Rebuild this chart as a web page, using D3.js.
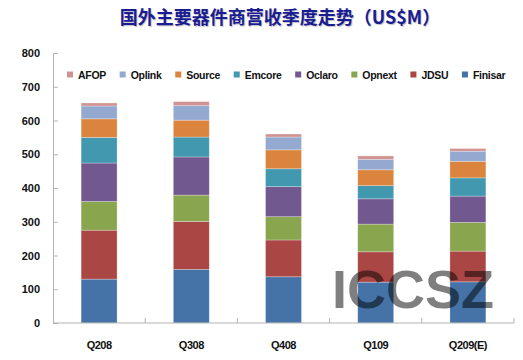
<!DOCTYPE html>
<html><head><meta charset="utf-8">
<script src="https://cdn.jsdelivr.net/npm/d3@7"></script>
<style>
body{margin:0;background:#fff}
text{font-family:"Liberation Sans",Arial,sans-serif}
</style>
</head><body><svg id="c" width="523" height="360"></svg>
<script>
const categories = ["Q208","Q308","Q408","Q109","Q209(E)"];
const seriesNames = ["Finisar","JDSU","Opnext","Oclaro","Emcore","Source","Oplink","AFOP"];
const finisar = [130,159,137,121,122];
const jdsu    = [145,142,109, 90, 91];
const opnext  = [ 85, 78, 69, 82, 85];
const oclaro  = [114,113, 89, 75, 78];
const emcore  = [ 76, 59, 53, 39, 54];
const source  = [ 55, 50, 56, 47, 49];
const oplink  = [ 38, 43, 38, 31, 30];
const afop    = [  9, 12,  9, 10,  8];
const yTicks = [0,100,200,300,400,500,600,700,800];
const seriesColors = ["#4572A7","#AA4643","#89A54E","#71588F","#4198AF","#DB843D","#93A9CF","#D19392"];
const titleText = "国外主要器件商营收季度走势（US$M）";
const watermark = "ICCSZ";

const seriesValues = [finisar,jdsu,opnext,oclaro,emcore,source,oplink,afop];
const rows = categories.map((c,i)=>{
  const r = {cat:c};
  seriesNames.forEach((s,k)=> r[s]=seriesValues[k][i]);
  return r;
});

const svg = d3.select("#c");
const m = {left:53, right:9, top:53, bottom:37};
const W = 523, H = 360;
const x = d3.scaleBand().domain(categories).range([m.left, W-m.right]).paddingInner(0.61).paddingOuter(0.305);
const y = d3.scaleLinear().domain([0,800]).range([H-m.bottom, m.top]);
const color = d3.scaleOrdinal().domain(seriesNames).range(seriesColors);

const stack = d3.stack().keys(seriesNames)(rows);

// title
svg.append("text").attr("x",280).attr("y",24).attr("text-anchor","middle")
  .attr("font-weight","bold").attr("font-size",18).attr("fill","#1a1c94")
  .attr("style","font-family:'Noto Sans CJK SC',sans-serif;text-shadow:1px 1px 1px rgba(0,0,0,0.25)")
  .text(titleText);

// bars
svg.append("g").selectAll("g").data(stack).join("g")
  .attr("fill", d=>color(d.key))
  .selectAll("rect").data(d=>d).join("rect")
  .attr("x", d=>x(d.data.cat))
  .attr("width", x.bandwidth())
  .attr("y", d=>y(d[1]))
  .attr("height", d=>y(d[0])-y(d[1]))
  .attr("stroke","rgba(255,255,255,0.35)").attr("stroke-width",0.8);

// y axis
const ya = svg.append("g").attr("transform",`translate(${m.left},0)`)
  .call(d3.axisLeft(y).tickValues(yTicks).tickSize(-5).tickPadding(13));
ya.select(".domain").attr("stroke","#b3b3b3");
ya.selectAll(".tick line").attr("stroke","#b3b3b3");
ya.selectAll("text").attr("font-size",11).attr("font-weight","bold").attr("fill","#111");

// x axis
const xa = svg.append("g").attr("transform",`translate(0,${y(0)})`)
  .call(d3.axisBottom(x).tickSize(0).tickPadding(18));
xa.select(".domain").remove();
xa.selectAll("text").attr("font-size",11).attr("font-weight","bold").attr("fill","#111").attr("letter-spacing","-0.5");
svg.append("line").attr("x1",m.left).attr("x2",W-m.right).attr("y1",y(0)).attr("y2",y(0)).attr("stroke","#b3b3b3");
const bounds = d3.range(1, categories.length+1).map(i=> x.range()[0] + i*x.step());
svg.append("g").selectAll("line").data(bounds).join("line")
  .attr("x1",d=>d).attr("x2",d=>d).attr("y1",y(0)).attr("y2",y(0)-5).attr("stroke","#b3b3b3");

// legend
const leg = svg.append("g").attr("transform","translate(67,75)");
let lx = 0;
seriesNames.slice().reverse().forEach(s=>{
  leg.append("rect").attr("x",lx).attr("y",-3.5).attr("width",6).attr("height",6).attr("fill",color(s));
  const t = leg.append("text").attr("x",lx+11).attr("y",3.8).attr("font-size",10.5).attr("font-weight","bold")
    .attr("fill","#111").attr("letter-spacing","-0.3").text(s);
  lx += 11 + t.node().getComputedTextLength() + 13.7;
});

// watermark
svg.append("text").attr("x",332).attr("y",308).attr("font-size",54).attr("font-weight","bold")
  .attr("fill","#000").attr("fill-opacity",0.5).text(watermark);
</script>
</body></html>
